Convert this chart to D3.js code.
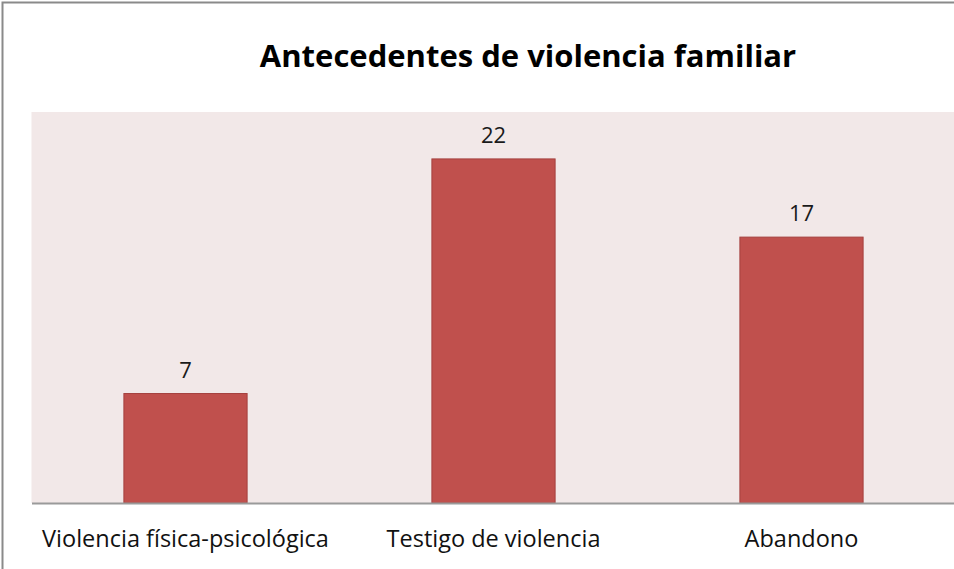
<!DOCTYPE html>
<html>
<head>
<meta charset="utf-8">
<script src="https://cdn.jsdelivr.net/npm/d3@7"></script>
<style>
  body { margin: 0; background: #fff; }
  text { font-family: "Open Sans", "Noto Sans", sans-serif; }
</style>
</head>
<body>
<svg id="chart" width="954" height="569"></svg>
<script>
const categories = ["Violencia física-psicológica", "Testigo de violencia", "Abandono"];
const values = [7, 22, 17];
const chartTitle = "Antecedentes de violencia familiar";

const svg = d3.select("#chart");
const plot = { left: 31.5, right: 955.5, top: 112, bottom: 503 };

// outer frame, only top and left edges show in the window
svg.append("rect")
  .attr("x", 2.5).attr("y", 2.5)
  .attr("width", 1000).attr("height", 1000)
  .attr("fill", "#fff")
  .attr("stroke", "#8a8a8a")
  .attr("stroke-width", 2);

const x = d3.scaleBand()
  .domain(categories)
  .range([plot.left, plot.right])
  .paddingInner(0.6)
  .paddingOuter(0.3);

const y = d3.scaleLinear()
  .domain([0, 25])
  .range([plot.bottom, plot.top]);

svg.append("rect")
  .attr("x", plot.left).attr("y", plot.top)
  .attr("width", plot.right - plot.left)
  .attr("height", plot.bottom - plot.top)
  .attr("fill", "#f2e8e8");

svg.append("text")
  .attr("x", 528).attr("y", 67)
  .attr("text-anchor", "middle")
  .attr("font-size", 31)
  .attr("font-weight", "bold")
  .attr("fill", "#000")
  .text(chartTitle);

svg.selectAll(".bar")
  .data(values)
  .enter()
  .append("rect")
  .attr("class", "bar")
  .attr("x", (d, i) => x(categories[i]))
  .attr("y", d => y(d))
  .attr("width", x.bandwidth())
  .attr("height", d => y(0) - y(d))
  .attr("fill", "#c0504d")
  .attr("stroke", "#a5403e")
  .attr("stroke-width", 1);

svg.selectAll(".val")
  .data(values)
  .enter()
  .append("text")
  .attr("class", "val")
  .attr("x", (d, i) => x(categories[i]) + x.bandwidth() / 2)
  .attr("y", d => y(d) - 16)
  .attr("text-anchor", "middle")
  .attr("font-size", 22)
  .attr("fill", "#1a1a1a")
  .text(d => d);

const xAxis = svg.append("g")
  .attr("transform", "translate(0," + plot.bottom + ")")
  .call(d3.axisBottom(x).tickSize(0).tickPadding(27));

xAxis.select(".domain")
  .attr("stroke", "#9a9a9a")
  .attr("stroke-width", 2);

xAxis.selectAll("text")
  .attr("font-size", 23.5)
  .attr("fill", "#111")
  .style("font-family", "'Open Sans', sans-serif");
</script>
</body>
</html>
